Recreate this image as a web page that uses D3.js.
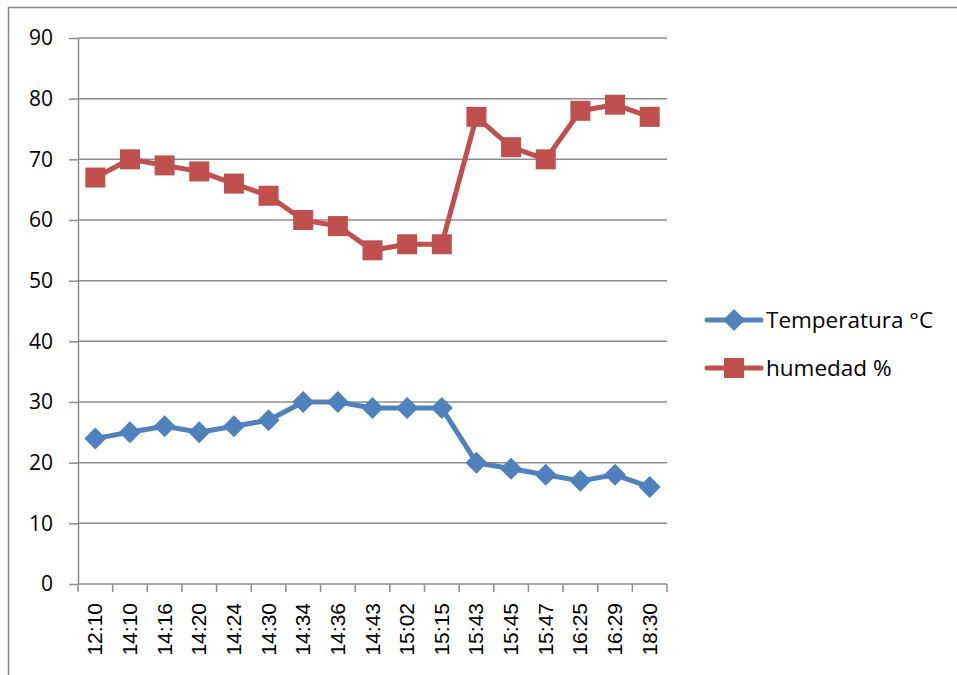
<!DOCTYPE html>
<html>
<head>
<meta charset="utf-8">
<script src="https://cdn.jsdelivr.net/npm/d3@7"></script>
<style>
  html, body { margin: 0; padding: 0; background: #fff; }
  svg { display: block; }
</style>
</head>
<body>
<svg id="chart" width="957" height="675"></svg>
<script>
// Readings over the afternoon
const times = ["12:10","14:10","14:16","14:20","14:24","14:30","14:34","14:36","14:43","15:02","15:15","15:43","15:45","15:47","16:25","16:29","18:30"];
const temperatura = [24,25,26,25,26,27,30,30,29,29,29,20,19,18,17,18,16];
const humedad = [67,70,69,68,66,64,60,59,55,56,56,77,72,70,78,79,77];
const yTicks = [0,10,20,30,40,50,60,70,80,90];

const seriesList = [
  { name: "Temperatura °C", values: temperatura, color: "#4F81BD", marker: "diamond" },
  { name: "humedad %", values: humedad, color: "#C0504D", marker: "square" }
];

const svg = d3.select("#chart");
const W = 957, H = 675;
const plot = { left: 78, right: 667, top: 38, bottom: 584 };

// Outer chart frame
svg.append("rect")
  .attr("x", 8.5).attr("y", 7.5)
  .attr("width", W + 10).attr("height", H + 10)
  .attr("fill", "none").attr("stroke", "#868686").attr("stroke-width", 1.5);

const x = d3.scaleBand().domain(times).range([plot.left, plot.right]).paddingInner(0).paddingOuter(0);
const y = d3.scaleLinear().domain([0, 90]).range([plot.bottom, plot.top]);

// Horizontal gridlines
svg.append("g").selectAll("line").data(yTicks.filter(t => t > 0)).join("line")
  .attr("x1", plot.left).attr("x2", plot.right)
  .attr("y1", d => y(d)).attr("y2", d => y(d))
  .attr("stroke", "#8C8C8C").attr("stroke-width", 1.5);

// Y axis
const yAxis = svg.append("g").attr("transform", `translate(${plot.left},0)`)
  .call(d3.axisLeft(y).tickValues(yTicks).tickSize(9).tickSizeOuter(0).tickPadding(16));
yAxis.select(".domain").attr("stroke", "#8C8C8C").attr("stroke-width", 1.5);
yAxis.selectAll(".tick line").attr("stroke", "#8C8C8C").attr("stroke-width", 1.5);
yAxis.selectAll(".tick text")
  .attr("font-family", "'Open Sans', 'Noto Sans', sans-serif")
  .attr("font-size", 21).attr("fill", "#000");

// X axis: ticks sit between categories
const xAxisG = svg.append("g").attr("transform", `translate(0,${plot.bottom})`);
xAxisG.append("line")
  .attr("x1", plot.left).attr("x2", plot.right)
  .attr("stroke", "#8C8C8C").attr("stroke-width", 1.5);
const boundaries = times.map(t => x(t)).concat([x(times[times.length - 1]) + x.bandwidth()]);
xAxisG.selectAll("line.tk").data(boundaries).join("line")
  .attr("class", "tk")
  .attr("x1", d => d).attr("x2", d => d)
  .attr("y1", 0).attr("y2", 8)
  .attr("stroke", "#8C8C8C").attr("stroke-width", 1.5);
xAxisG.selectAll("text").data(times).join("text")
  .attr("transform", d => `translate(${x(d) + x.bandwidth() / 2 + 7},19) rotate(-90)`)
  .attr("text-anchor", "end")
  .attr("font-family", "'Liberation Sans', Arial, sans-serif")
  .attr("font-size", 21).attr("fill", "#000")
  .text(d => d);

const cx = (d, i) => x(times[i]) + x.bandwidth() / 2;

const line = d3.line().x((d, i) => cx(d, i)).y(d => y(d));

function drawMarker(g, type, color, px, py) {
  if (type === "square") {
    g.append("rect").attr("x", px - 10).attr("y", py - 10)
      .attr("width", 20).attr("height", 20).attr("fill", color);
  } else {
    g.append("path")
      .attr("d", `M${px},${py - 11}L${px + 11},${py}L${px},${py + 11}L${px - 11},${py}Z`)
      .attr("fill", color);
  }
}

seriesList.forEach(s => {
  const g = svg.append("g");
  g.append("path").datum(s.values)
    .attr("d", line).attr("fill", "none")
    .attr("stroke", s.color).attr("stroke-width", 5)
    .attr("stroke-linejoin", "round");
  s.values.forEach((v, i) => drawMarker(g, s.marker, s.color, cx(v, i), y(v)));
});

// Legend
const legend = svg.append("g");
seriesList.forEach((s, i) => {
  const ly = 320 + i * 48;
  const lg = legend.append("g");
  lg.append("line").attr("x1", 707).attr("x2", 761).attr("y1", ly).attr("y2", ly)
    .attr("stroke", s.color).attr("stroke-width", 5).attr("stroke-linecap", "round");
  drawMarker(lg, s.marker, s.color, 734, ly);
  lg.append("text").attr("x", 766).attr("y", ly + 8)
    .attr("font-family", "'Open Sans', 'Noto Sans', sans-serif")
    .attr("font-size", 22.5).attr("fill", "#000")
    .text(s.name);
});
</script>
</body>
</html>
